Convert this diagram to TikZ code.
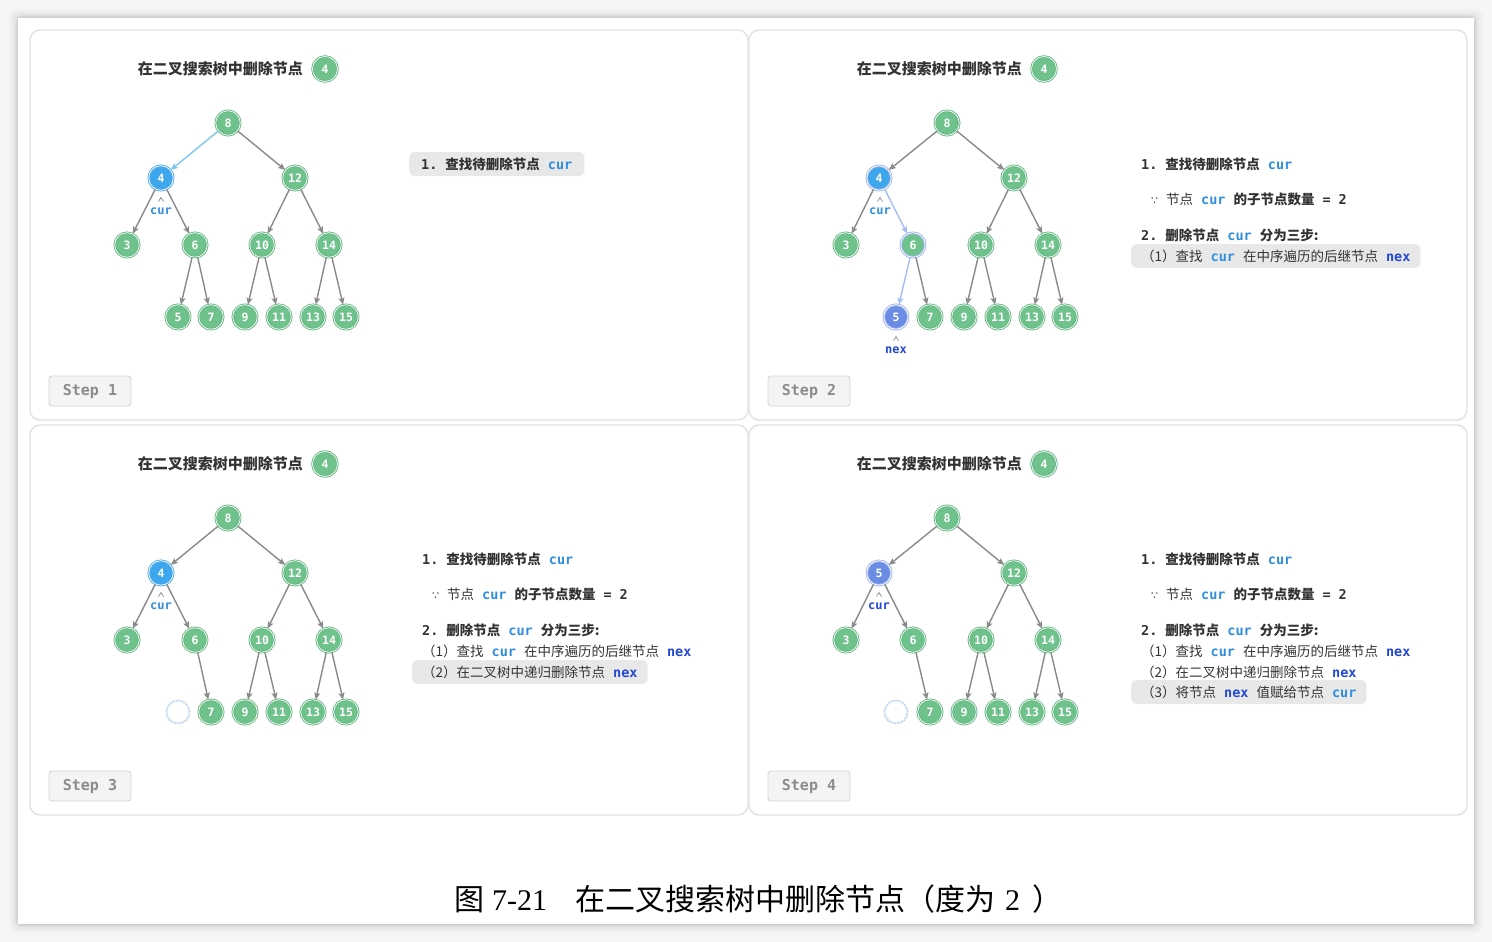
\documentclass[tikz,border=0pt]{standalone}
\usepackage{fontspec}
\setmainfont{Liberation Serif}
\newfontfamily\cjk{Noto Sans CJK SC}
\newfontfamily\mono{DejaVu Sans Mono}
\newfontfamily\dejavu{DejaVu Sans}
\usetikzlibrary{arrows.meta}
\definecolor{ngreen}{RGB}{112,194,140}
\definecolor{ngreenring}{RGB}{104,186,132}
\definecolor{nblue}{RGB}{62,166,236}
\definecolor{nbluering}{RGB}{80,170,236}
\definecolor{npurple}{RGB}{106,140,228}
\definecolor{lavring}{RGB}{160,182,240}
\definecolor{edgegray}{RGB}{138,138,138}
\definecolor{edgeblue}{RGB}{126,200,240}
\definecolor{edgelav}{RGB}{165,188,245}
\definecolor{curblue}{RGB}{47,143,222}
\definecolor{nexblue}{RGB}{35,72,210}
\definecolor{textdark}{RGB}{51,51,51}
\definecolor{hlgray}{RGB}{232,232,232}
\definecolor{panelline}{RGB}{226,226,226}
\definecolor{stepfill}{RGB}{244,244,244}
\definecolor{stepline}{RGB}{214,214,214}
\definecolor{steptext}{RGB}{140,140,140}
\definecolor{ghostc}{RGB}{170,200,235}
\definecolor{outerbg}{RGB}{246,246,246}

\newcommand{\zh}[1]{{\cjk #1}}
\newcommand{\zhb}[1]{{\cjk\bfseries #1}}
\newcommand{\mb}[1]{{\mono\bfseries #1}}
\newcommand{\kcur}{{\mono\bfseries\color{curblue}cur}}
\newcommand{\knex}{{\mono\bfseries\color{nexblue}nex}}
\newcommand{\gap}{\hspace{8pt}}

\tikzset{
  nd/.style={circle, fill=ngreen, draw=ngreenring, double=white, double distance=0.7pt,
    line width=0.9pt, minimum size=24.5pt, inner sep=0pt, text=white,
    font=\mono\bfseries\fontsize{11.5}{11.5}\selectfont},
  ndcur/.style={nd, fill=nblue, draw=nbluering},
  ndnex/.style={nd, fill=npurple, draw=lavring},
  ndlav/.style={nd, draw=lavring},
  ghost/.style={circle, draw=ghostc, line width=1.8pt, dash pattern=on 0.7pt off 0.9pt,
    minimum size=23pt, inner sep=0pt},
  ed/.style={draw=edgegray, line width=1.4pt, -{Stealth[length=7pt,width=6pt,inset=1.5pt]}},
  edb/.style={ed, draw=edgeblue},
  edl/.style={ed, draw=edgelav},
  caret/.style={draw=edgegray, line width=0.7pt},
  ptr/.style={font=\mono\bfseries\fontsize{12}{12}\selectfont, inner sep=0pt},
  panel/.style={draw=panelline, line width=1.4pt, rounded corners=10pt, fill=white},
  ttl/.style={font=\cjk\bfseries\fontsize{15}{15}\selectfont, text=textdark, inner sep=0pt},
  stepbox/.style={draw=stepline, fill=stepfill, line width=0.9pt, rounded corners=3pt,
    minimum width=82pt, minimum height=30pt, inner sep=0pt, text=steptext,
    font=\mono\bfseries\fontsize{15}{15}\selectfont},
  ln/.style={anchor=west, inner xsep=10pt, inner ysep=4pt, text=textdark,
    font=\fontsize{13.5}{15}\selectfont},
  lnbox/.style={ln, fill=hlgray, rounded corners=5pt, minimum height=24pt},
}

\newcommand{\panelframe}[2]{% prefix, step number
  \draw[panel] (30,30) rectangle (748,420);
  \node[ttl, anchor=east] (#1title) at (303,69) {在二叉搜索树中删除节点};
  \node[nd, minimum size=25pt] (#1tk) at (325,69) {4};
  \node[stepbox] (#1step) at (90,391) {Step #2};
}
\newcommand{\treebase}[1]{%
  \node[nd] (#1n8) at (228,123) {8};
  \node[nd] (#1n12) at (295,178) {12};
  \node[nd] (#1n3) at (127,245) {3};
  \node[nd] (#1n10) at (262,245) {10};
  \node[nd] (#1n14) at (329,245) {14};
  \node[nd] (#1n7) at (211,317) {7};
  \node[nd] (#1n9) at (245,317) {9};
  \node[nd] (#1n11) at (279,317) {11};
  \node[nd] (#1n13) at (313,317) {13};
  \node[nd] (#1n15) at (346,317) {15};
}
\newcommand{\treeedges}[1]{%
  \draw[ed] (#1n8) -- (#1n12);
  \draw[ed] (#1n4) -- (#1n3);
  \draw[ed] (#1n6) -- (#1n7);
  \draw[ed] (#1n12) -- (#1n10);
  \draw[ed] (#1n12) -- (#1n14);
  \draw[ed] (#1n10) -- (#1n9);
  \draw[ed] (#1n10) -- (#1n11);
  \draw[ed] (#1n14) -- (#1n13);
  \draw[ed] (#1n14) -- (#1n15);
}
\newcommand{\curlabel}[2]{% prefix, colour
  \draw[caret] (158.5,201.5) -- (161,197.5) -- (163.5,201.5);
  \node[ptr, text=#2] (#1curlbl) at (161,211) {cur};
}

\begin{document}
\begin{tikzpicture}[x=1pt,y=-1pt]
\useasboundingbox (0,0) rectangle (1492,942);
% outer background and card shadow
\fill[outerbg] (0,0) rectangle (1492,942);
\foreach \i/\o in {9/0.015,7/0.02,5/0.025,3/0.03,2/0.035,1/0.04}
  \fill[black, opacity=\o, rounded corners=6pt] (18-\i,18-\i) rectangle (1474+\i,924+\i);
\fill[white] (18,18) rectangle (1474,924);

% ================= Panel 1 =================
\begin{scope}
\panelframe{a}{1}
\treebase{a}
\node[ndcur] (an4) at (161,178) {4};
\node[nd] (an6) at (195,245) {6};
\node[nd] (an5) at (178,317) {5};
\treeedges{a}
\draw[edb] (an8) -- (an4);
\draw[ed] (an4) -- (an6);
\draw[ed] (an6) -- (an5);
\curlabel{a}{curblue}
\node[lnbox, inner xsep=12pt] (a1) at (409,164) {\mb{1.}\gap\zhb{查找待删除节点}\gap\kcur};
\end{scope}

% ================= Panel 2 =================
\begin{scope}[shift={(719,0)}]
\panelframe{b}{2}
\treebase{b}
\node[ndcur, draw=lavring] (bn4) at (160,178) {4};
\node[ndlav] (bn6) at (194,245) {6};
\node[ndnex] (bn5) at (177,317) {5};
\treeedges{b}
\draw[ed] (bn8) -- (bn4);
\draw[edl] (bn4) -- (bn6);
\draw[edl] (bn6) -- (bn5);
\curlabel{b}{curblue}
\draw[caret] (174.5,340.5) -- (177,336.5) -- (179.5,340.5);
\node[ptr, text=nexblue] (bnexlbl) at (177,350) {nex};
\node[ln] (b1) at (412,164) {\mb{1.}\gap\zhb{查找待删除节点}\gap\kcur};
\node[ln] (b2) at (422,199) {{\dejavu\fontsize{11}{11}\selectfont ∵}\gap\zh{节点}\gap\kcur\gap\zhb{的子节点数量}\gap\mb{=}\gap\mb{2}};
\node[ln] (b3) at (412,235) {\mb{2.}\gap\zhb{删除节点}\gap\kcur\gap\zhb{分为三步:}};
\node[lnbox] (b4) at (412,256) {\zh{（1）查找}\gap\kcur\gap\zh{在中序遍历的后继节点}\gap\knex};
\end{scope}

% ================= Panel 3 =================
\begin{scope}[shift={(0,395)}]
\panelframe{c}{3}
\treebase{c}
\node[ndcur] (cn4) at (161,178) {4};
\node[nd] (cn6) at (195,245) {6};
\node[ghost] (cn5) at (178,317) {};
\treeedges{c}
\draw[ed] (cn8) -- (cn4);
\draw[ed] (cn4) -- (cn6);
\curlabel{c}{curblue}
\node[ln] (c1) at (412,164) {\mb{1.}\gap\zhb{查找待删除节点}\gap\kcur};
\node[ln] (c2) at (422,199) {{\dejavu\fontsize{11}{11}\selectfont ∵}\gap\zh{节点}\gap\kcur\gap\zhb{的子节点数量}\gap\mb{=}\gap\mb{2}};
\node[ln] (c3) at (412,235) {\mb{2.}\gap\zhb{删除节点}\gap\kcur\gap\zhb{分为三步:}};
\node[ln] (c4) at (412,256) {\zh{（1）查找}\gap\kcur\gap\zh{在中序遍历的后继节点}\gap\knex};
\node[lnbox] (c5) at (412,277) {\zh{（2）在二叉树中递归删除节点}\gap\knex};
\end{scope}

% ================= Panel 4 =================
\begin{scope}[shift={(719,395)}]
\panelframe{d}{4}
\treebase{d}
\node[ndnex] (dn4) at (160,178) {5};
\node[nd] (dn6) at (194,245) {6};
\node[ghost] (dn5) at (177,317) {};
\treeedges{d}
\draw[ed] (dn8) -- (dn4);
\draw[ed] (dn4) -- (dn6);
\begin{scope}[xshift=-1]
\curlabel{d}{nexblue}
\end{scope}
\node[ln] (d1) at (412,164) {\mb{1.}\gap\zhb{查找待删除节点}\gap\kcur};
\node[ln] (d2) at (422,199) {{\dejavu\fontsize{11}{11}\selectfont ∵}\gap\zh{节点}\gap\kcur\gap\zhb{的子节点数量}\gap\mb{=}\gap\mb{2}};
\node[ln] (d3) at (412,235) {\mb{2.}\gap\zhb{删除节点}\gap\kcur\gap\zhb{分为三步:}};
\node[ln] (d4) at (412,256) {\zh{（1）查找}\gap\kcur\gap\zh{在中序遍历的后继节点}\gap\knex};
\node[ln] (d5) at (412,277) {\zh{（2）在二叉树中递归删除节点}\gap\knex};
\node[lnbox] (d6) at (412,297) {\zh{（3）将节点}\gap\knex\gap\zh{值赋给节点}\gap\kcur};
\end{scope}

% caption
\node[inner sep=0pt, anchor=west, text=black, font=\fontsize{30}{30}\selectfont] (cap) at (454,899)
  {\zh{图}\hspace{8pt}7-21\hspace{28pt}\zh{在二叉搜索树中删除节点（度为}\hspace{10pt}2\hspace{12pt}\zh{）}};
\end{tikzpicture}
\end{document}
